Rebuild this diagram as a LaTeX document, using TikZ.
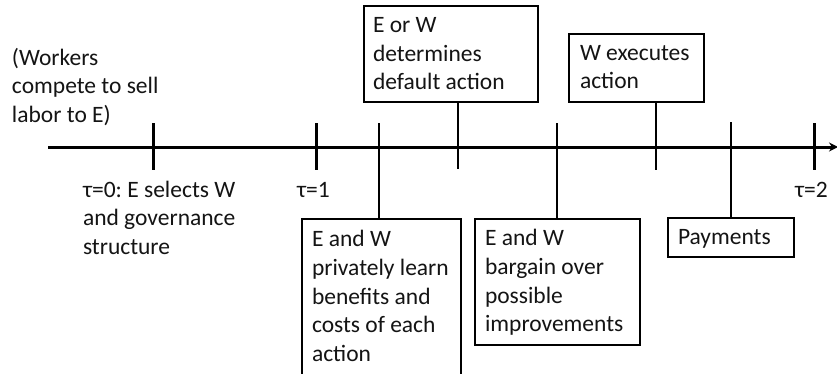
\documentclass[tikz,border=0pt]{standalone}
\usepackage{fontspec}
\setmainfont{Carlito}
\usetikzlibrary{arrows.meta,calc}
\frenchspacing
\newcommand{\mylines}[1]{\begin{tabular}[t]{@{}l@{}}#1\end{tabular}}
\begin{document}
\begin{tikzpicture}[x=1pt,y=-1pt,
  box/.style={draw=black,line width=1.3pt,rectangle,anchor=north west,inner sep=0pt,outer sep=0pt},
  lbl/.style={anchor=base west,inner sep=0pt,outer sep=0pt,text=black!92,font=\fontsize{23.5}{28.7}\selectfont},
  axisline/.style={line width=3pt,-{Stealth[length=9pt,width=9pt]}},
  tickline/.style={line width=3pt},
  conn/.style={line width=2pt}]
\clip (0,0) rectangle (837,373);
\fill[white] (0,0) rectangle (837,373);

% boxes
\node[box,minimum width=174pt,minimum height=96pt] (b1) at (364,6) {};
\node[box,minimum width=135pt,minimum height=68pt] (b2) at (569,34) {};
\node[box,minimum width=159pt,minimum height=165pt] (b3) at (302,219) {};
\node[box,minimum width=165pt,minimum height=126pt] (b4) at (475,219) {};
\node[box,minimum width=126pt,minimum height=39pt] (b5) at (668,218) {};

% box texts
\node[lbl] (t1) at (373,32.3) {\mylines{E or W\\determines\\default action}};
\node[lbl] (t2) at (580,60) {\mylines{W executes\\action}};
\node[lbl] (t3) at (312,246.7) {\mylines{E and W\\privately learn\\benefits and\\costs of each\\action}};
\node[lbl] (t4) at (485,245.7) {\mylines{E and W\\bargain over\\possible\\improvements}};
\node[lbl] (t5) at (678,244) {Payments};

% free labels
\node[lbl] (w) at (12,65) {\mylines{(Workers\\compete to sell\\labor to E)}};
\node[lbl] (tau0) at (83,197) {\mylines{τ=0: E selects W\\and governance\\structure}};
\node[lbl] (tau1) at (297,197) {τ=1};
\node[lbl] (tau2) at (795,197) {τ=2};

% axis
\coordinate (axs) at (48,147);
\coordinate (axe) at (838,147);
\draw[axisline] (axs) -- (axe);

% ticks
\coordinate (k0t) at (153,123); \coordinate (k0b) at (153,170);
\coordinate (k1t) at (316,123); \coordinate (k1b) at (316,170);
\coordinate (k2t) at (814,123); \coordinate (k2b) at (814,170);
\draw[tickline] (k0t) -- (k0b);
\draw[tickline] (k1t) -- (k1b);
\draw[tickline] (k2t) -- (k2b);

% connectors
\coordinate (c3) at (379,123);
\coordinate (c1) at (458,169);
\coordinate (c4) at (557,123);
\coordinate (c2) at (656,170);
\coordinate (c5) at (731,122);
\draw[conn] (c3) -- (c3 |- b3.north);
\draw[conn] (c1 |- b1.south) -- (c1);
\draw[conn] (c4) -- (c4 |- b4.north);
\draw[conn] (c2 |- b2.south) -- (c2);
\draw[conn] (c5) -- (c5 |- b5.north);
\end{tikzpicture}
\end{document}
